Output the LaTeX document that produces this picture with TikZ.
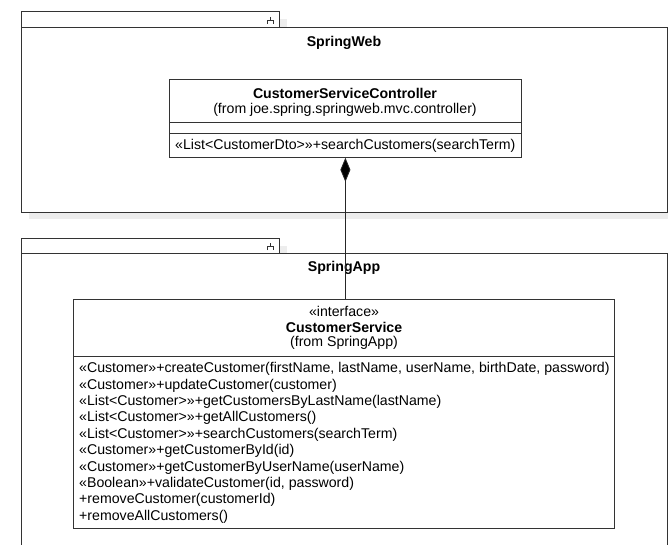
\documentclass[tikz,border=0pt]{standalone}
\usepackage{fontspec}
\setmainfont{Liberation Sans}
\usetikzlibrary{arrows.meta}
\begin{document}
\begin{tikzpicture}[x=1pt,y=-1pt,
  box/.style={draw=black!80, line width=0.8pt, fill=white, inner sep=0pt, anchor=north west},
  shadow/.style={fill=black!7, draw=none},
  txt/.style={font=\fontsize{14.15}{16}\selectfont, inner sep=0pt},
  ttl/.style={font=\fontsize{14.15}{16}\selectfont\bfseries, inner sep=0pt},
  op/.style={txt, anchor=west},
  sep/.style={draw=black!80, line width=0.8pt},
  icon/.style={draw=black!80, line width=0.7pt}]
\useasboundingbox[fill=white] (0,0) rectangle (668,545);
% shadows
\fill[shadow] (279,19) rectangle (287,27);
\fill[shadow] (29,212) rectangle (668,219);
\fill[shadow] (279,246) rectangle (287,253);
\fill[shadow] (177,157) rectangle (530,164);
\fill[shadow] (521,87) rectangle (530,164);
\fill[shadow] (81,528) rectangle (622,536);
\fill[shadow] (614,307) rectangle (622,536);
% SpringWeb package
\node[box, minimum width=258pt, minimum height=16pt] (webtab) at (21,11) {};
\node[box, minimum width=646pt, minimum height=185pt] (web) at (21,27) {};
\draw[icon] (270,17) -- (270,20) (267,24) -- (267,20) -- (273,20) -- (273,24);
\node[ttl] (webname) at (344,43) {SpringWeb};
% SpringApp package
\node[box, minimum width=258pt, minimum height=15pt] (apptab) at (21,238) {};
\node[box, minimum width=646pt, minimum height=320pt] (app) at (21,253) {};
\draw[icon] (270,243) -- (270,246) (267,250) -- (267,246) -- (273,246) -- (273,250);
\node[ttl] (appname) at (344,268) {SpringApp};
% Controller class
\node[box, minimum width=352pt, minimum height=78pt] (ctrl) at (169,79) {};
\draw[sep] (ctrl.west |- 0,122) -- (ctrl.east |- 0,122);
\draw[sep] (ctrl.west |- 0,133) -- (ctrl.east |- 0,133);
\node[ttl] (ctrlname) at (345,93) {CustomerServiceController};
\node[txt] (ctrlfrom) at (345,109.5) {(from joe.spring.springweb.mvc.controller)};
\node[op] (ctrlop) at (175,145.5) {«List<CustomerDto>»+searchCustomers(searchTerm)};
% Interface class
\node[box, minimum width=541pt, minimum height=229pt] (iface) at (73,299) {};
\draw[sep] (iface.west |- 0,356) -- (iface.east |- 0,356);
\node[txt] (ifst) at (344,311) {«interface»};
\node[ttl] (ifname) at (344,327) {CustomerService};
\node[txt] (iffrom) at (344,343) {(from SpringApp)};
\node[op] (op1) at (79,369) {«Customer»+createCustomer(firstName, lastName, userName, birthDate, password)};
\node[op] (op2) at (79,385.4) {«Customer»+updateCustomer(customer)};
\node[op] (op3) at (79,401.8) {«List<Customer>»+getCustomersByLastName(lastName)};
\node[op] (op4) at (79,418.2) {«List<Customer>»+getAllCustomers()};
\node[op] (op5) at (79,434.6) {«List<Customer>»+searchCustomers(searchTerm)};
\node[op] (op6) at (79,451) {«Customer»+getCustomerById(id)};
\node[op] (op7) at (79,467.4) {«Customer»+getCustomerByUserName(userName)};
\node[op] (op8) at (79,483.8) {«Boolean»+validateCustomer(id, password)};
\node[op] (op9) at (79,500.2) {+removeCustomer(customerId)};
\node[op] (op10) at (79,516.6) {+removeAllCustomers()};
% composition
\draw[draw=black!85, line width=0.8pt, {Diamond[length=24pt,width=10pt,fill=black]}-] (ctrl.south) -- (ctrl.south |- iface.north);
\end{tikzpicture}
\end{document}
